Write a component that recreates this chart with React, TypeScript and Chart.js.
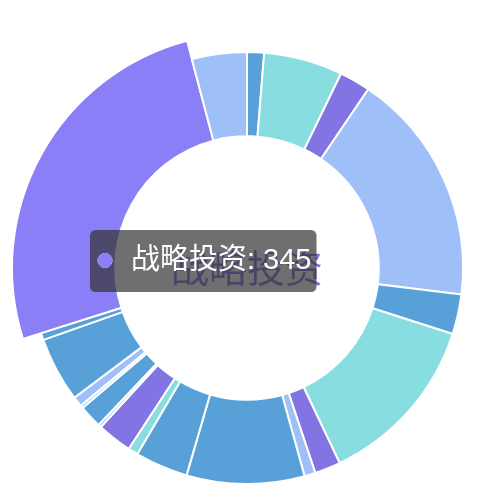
import { useEffect, useRef } from 'react';
import { Chart, registerables, Tooltip } from 'chart.js';

Chart.register(...registerables);

// funding round categories, clockwise from 12 o'clock
const labels = [
  '种子轮', '天使轮', 'Pre-A轮', 'A轮', 'A+轮', 'B轮', 'B+轮', 'C轮', 'C+轮', 'D轮',
  'E轮', 'F轮', 'Pre-IPO', 'IPO上市', '上市后', '新三板', '并购', '股权转让', '战略投资', '其他',
];
const values = [17, 79, 31, 234, 40, 174, 26, 11, 118, 53, 10, 35, 3, 23, 3, 10, 65, 7, 345, 55];

const DB = '#58a0d8';
const CY = '#88dde0';
const PU = '#8274e2';
const LB = '#9ebff8';
const LAV = '#8b7ff8';
const colors = [DB, CY, PU, LB, DB, CY, PU, LB, DB, DB, CY, PU, LB, DB, CY, LB, DB, DB, LAV, LB];

const activeIndex = 18;
const FONT = "'Noto Sans CJK SC', 'Noto Sans', sans-serif";
const TIP_FONT = "'Liberation Sans', 'Noto Sans CJK SC', sans-serif";

(Tooltip.positioners as any).nearCenter = function (items: any[]) {
  if (!items.length) return false;
  const el = items[0].element;
  return { x: el.x - 157, y: el.y - 7 };
};

// emphasised slice only grows outward
const growActive = {
  id: 'growActive',
  afterDatasetUpdate(chart: any, args: any) {
    const arc = chart.getDatasetMeta(args.index).data[activeIndex];
    if (arc) arc.outerRadius += 19;
  },
};

const centerLabel = {
  id: 'centerLabel',
  afterDatasetsDraw(chart: any) {
    const arc = chart.getDatasetMeta(0).data[activeIndex];
    if (!arc) return;
    const ctx = chart.ctx;
    ctx.save();
    ctx.font = `38px ${FONT}`;
    ctx.fillStyle = '#7d70e8';
    ctx.textAlign = 'center';
    ctx.textBaseline = 'middle';
    ctx.fillText(labels[activeIndex], arc.x, arc.y);
    ctx.restore();
  },
};

export default function App() {
  const canvasRef = useRef<HTMLCanvasElement>(null);

  useEffect(() => {
    if (!canvasRef.current) return;
    const chart = new Chart(canvasRef.current, {
      type: 'doughnut',
      data: {
        labels,
        datasets: [{
          data: values,
          backgroundColor: colors,
          hoverBackgroundColor: colors,
          borderColor: '#fff',
          hoverBorderColor: '#fff',
          borderWidth: 2,
          hoverOffset: 0,
        }],
      },
      options: {
        responsive: false,
        animation: false,
        radius: 216,
        cutout: '61%',
        layout: { padding: { top: 38 } },
        events: [],
        plugins: {
          legend: { display: false },
          tooltip: {
            enabled: true,
            position: 'nearCenter' as any,
            xAlign: 'left',
            yAlign: 'center',
            caretSize: 0,
            caretPadding: 0,
            backgroundColor: 'rgba(50, 50, 50, 0.7)',
            cornerRadius: 6,
            padding: { top: 13, bottom: 14, left: 8, right: 5 },
            bodyFont: { size: 29, family: TIP_FONT },
            bodyColor: '#fff',
            displayColors: true,
            usePointStyle: true,
            boxWidth: 14,
            boxHeight: 14,
            boxPadding: 17,
            callbacks: {
              title: () => '',
              label: (ctx: any) => `${ctx.label}: ${ctx.raw}`,
              labelColor: (ctx: any) => ({
                borderColor: colors[ctx.dataIndex],
                backgroundColor: colors[ctx.dataIndex],
              }),
              labelPointStyle: () => ({ pointStyle: 'circle', rotation: 0 }),
            },
          },
        },
      },
      plugins: [growActive, centerLabel],
    });

    chart.tooltip?.setActiveElements([{ datasetIndex: 0, index: activeIndex }], { x: 0, y: 0 });
    chart.update();

    return () => chart.destroy();
  }, []);

  return (
    <div style={{ position: 'fixed', left: 0, top: 0, width: 494, height: 498, background: '#fff' }}>
      <canvas ref={canvasRef} width={494} height={498}></canvas>
    </div>
  );
}
